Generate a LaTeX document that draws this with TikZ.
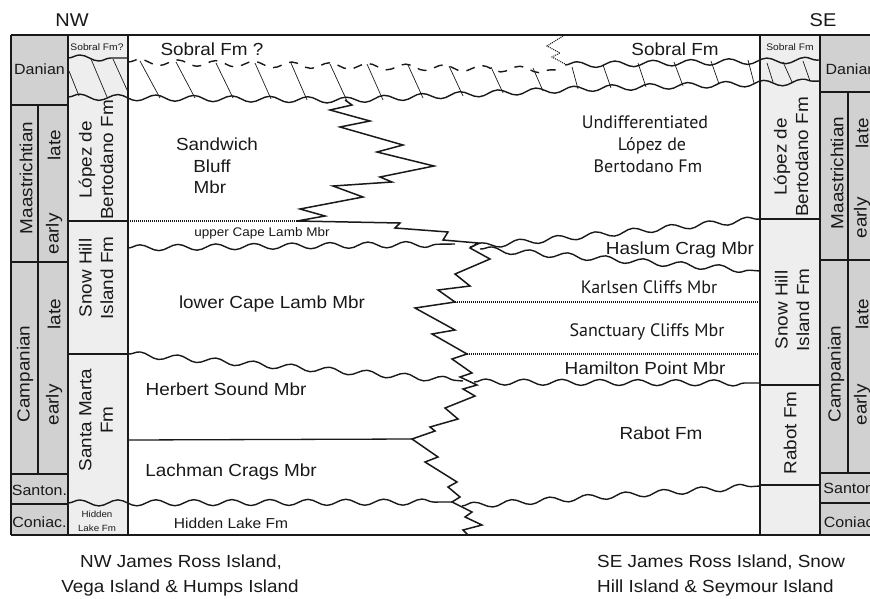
\documentclass[tikz,border=0pt]{standalone}
\usepackage{fontspec}
\setmainfont{Liberation Sans}[FakeStretch=1.08]
\newfontfamily\ptsans{PT Sans}
\usetikzlibrary{decorations.pathmorphing}

\definecolor{stagegray}{gray}{0.82}
\definecolor{fmgray}{gray}{0.935}
\definecolor{ink}{gray}{0.1}

\tikzset{
  edge/.style={line width=1.3pt,draw=ink},
  zig/.style={line width=1.5pt,draw=ink,line join=miter},
  wavy/.style={line width=1.4pt,draw=ink,decorate,decoration={snake,segment length=38pt,amplitude=3pt}},
  hatch/.style={line width=0.7pt,draw=ink},
  dotline/.style={line width=1.1pt,draw=ink,dash pattern=on 1pt off 1pt},
  lbl/.style={inner sep=0pt,text=ink,anchor=base,font=\fontsize{17.5}{21}\selectfont},
  mlbl/.style={lbl,font=\ptsans\fontsize{18}{21}\selectfont},
  slbl/.style={lbl,font=\fontsize{12.5}{15}\selectfont},
  tiny/.style={lbl,font=\fontsize{9.5}{14}\selectfont},
  stagelbl/.style={lbl,font=\fontsize{14.8}{18}\selectfont},
  vlbl/.style={inner sep=0pt,text=ink,rotate=90,align=center,font=\fontsize{17.5}{21.5}\selectfont},
}

\begin{document}
\begin{tikzpicture}[x=1pt,y=-1pt]
\useasboundingbox (0,0) rectangle (870,598);

% column fills
\fill[stagegray] (11,35) rectangle (68,535);
\fill[fmgray] (68,35) rectangle (128,535);
\fill[fmgray] (760,35) rectangle (820,535);
\fill[stagegray] (820,35) rectangle (877,535);

% frame and columns
\draw[edge] (11,35) -- (877,35);
\draw[edge] (11,535) -- (877,535);
\foreach \x in {11,68,128,760,820,877}
	\draw[edge] (\x,35) -- (\x,535);
\draw[edge] (38,105) -- (38,474);
\draw[edge] (848,92) -- (848,473);
\foreach \y in {105,262,474,504}
	\draw[edge] (11,\y) -- (68,\y);
\foreach \y in {92,260,473,503}
	\draw[edge] (820,\y) -- (877,\y);
\foreach \y in {221,354}
	\draw[edge] (68,\y) -- (128,\y);
\foreach \y in {219,385,485}
	\draw[edge] (760,\y) -- (820,\y);

% Sobral unconformity, hatched band
\draw[wavy] (68,58) -- (128,58);
\draw[wavy,dash pattern=on 9pt off 8pt] (128,62) -- (560,70);
\draw[dotline] (563,36) -- (547,46) -- (560,53) -- (552,57) -- (565,64);
\draw[wavy] (565,65) -- (820,60);
\draw[wavy] (68,97) -- (330,100) -- (580,88) -- (820,81);
\foreach \a/\b/\c/\d in {69/71/79/96, 91/59/107/97, 113/59/128/92,
	140/61/160/98, 176/62/195/98, 216/63/233/98, 255/63/271/99,
	291/63/307/100, 330/64/347/101, 367/64/383/100, 408/65/423/98,
	449/66/463/96, 491/67/503/93, 533/68/543/91, 572/67/578/89,
	603/65/611/88, 638/63/646/87, 674/62/683/86, 711/61/719/84,
	748/60/754/83, 767/63/773/82, 783/62/792/82, 803/61/810/81}
	\draw[hatch] (\a,\b) -- (\c,\d);

% member boundaries
\coordinate (ucl) at (297,221);
\coordinate (ksc) at (455,302);
\coordinate (sch) at (467,354);
\coordinate (hsl) at (412,439);
\draw[dotline] (128,221) -- (ucl);
\draw[wavy] (128,248) -- (455,244);
\draw[wavy] (470,247) -- (760,219);
\draw[wavy] (480,249) -- (760,271);
\draw[dotline] (ksc) -- (760,302);
\draw[dotline] (sch) -- (760,354);
\draw[wavy] (128,354) -- (463,381);
\draw[wavy] (474,382) -- (760,383);
\draw[edge] (128,440) -- (hsl);
\draw[wavy] (68,503) -- (452,502);
\draw[wavy] (462,506) -- (760,486);

% facies boundary
\draw[zig] (345,100) -- (352,105) -- (330,110) -- (370,121) -- (340,127)
	-- (403,145) -- (377,152) -- (434,166) -- (380,177) -- (392,182)
	-- (333,186) -- (363,197) -- (300,209) -- (325,216) -- (ucl)
	-- (400,223) -- (395,228) -- (448,232) -- (443,240) -- (478,243)
	-- (470,248) -- (490,259) -- (455,274) -- (470,286) -- (438,290)
	-- (ksc) -- (415,308) -- (455,330) -- (432,334) -- (sch)
	-- (452,359) -- (472,373) -- (460,377) -- (477,385) -- (463,389)
	-- (475,396) -- (445,408) -- (458,419) -- (430,427) -- (435,431)
	-- (hsl) -- (438,457) -- (425,462) -- (457,482) -- (448,487)
	-- (460,497) -- (452,502) -- (472,512) -- (465,517) -- (482,525)
	-- (463,530) -- (468,535);

% headings
\node[lbl,font=\fontsize{18.5}{22}\selectfont] (nw) at (72,26) {NW};
\node[lbl,font=\fontsize{18.5}{22}\selectfont] (se) at (823,26) {SE};

% left stages
\node[stagelbl] (danL) at (39.5,74) {Danian};
\node[vlbl] (maaL) at (26,178) {Maastrichtian};
\node[vlbl] (maaLateL) at (54,145) {late};
\node[vlbl] (maaEarlyL) at (54,234) {early};
\node[vlbl] (camL) at (25,374) {Campanian};
\node[vlbl] (camLateL) at (54,314) {late};
\node[vlbl] (camEarlyL) at (54,405) {early};
\node[stagelbl] (sanL) at (39.5,495) {Santon.};
\node[stagelbl] (conL) at (39.5,527) {Coniac.};

% right stages
\node[stagelbl] (danR) at (851,74) {Danian};
\node[vlbl] (maaR) at (837,173) {Maastrichtian};
\node[vlbl] (maaLateR) at (862,133) {late};
\node[vlbl] (maaEarlyR) at (862,218) {early};
\node[vlbl] (camR) at (836,374) {Campanian};
\node[vlbl] (camLateR) at (862,314) {late};
\node[vlbl] (camEarlyR) at (862,405) {early};
\node[stagelbl] (sanR) at (851,493) {Santon.};
\node[stagelbl] (conR) at (851,527) {Coniac.};

% formations in columns
\node[tiny] (sobColL) at (97,50) {Sobral Fm?};
\node[vlbl] (lbfL) at (96,160) {López de\\Bertodano Fm};
\node[vlbl] (shiL) at (96,278) {Snow Hill\\Island Fm};
\node[vlbl] (smfL) at (96,420) {Santa Marta\\Fm};
\node[tiny,font=\fontsize{9}{14}\selectfont] (hlHi) at (97,517) {Hidden};
\node[tiny,font=\fontsize{9}{14}\selectfont] (hlLo) at (97,531) {Lake Fm};
\node[tiny] (sobColR) at (790,50) {Sobral Fm};
\node[vlbl] (lbfR) at (791,157) {López de\\Bertodano Fm};
\node[vlbl] (shiR) at (792,310) {Snow Hill\\Island Fm};
\node[vlbl] (rabR) at (790,433) {Rabot Fm};

% units, NW side
\node[lbl] (sobNW) at (212,55) {Sobral Fm ?};
\node[lbl] (sbA) at (217,150) {Sandwich};
\node[lbl] (sbB) at (212,172) {Bluff};
\node[lbl] (sbC) at (210,193) {Mbr};
\node[slbl] (uclt) at (262,236) {upper Cape Lamb Mbr};
\node[lbl] (lcl) at (272,308) {lower Cape Lamb Mbr};
\node[lbl] (hsm) at (226,395) {Herbert Sound Mbr};
\node[lbl] (lcm) at (231,476) {Lachman Crags Mbr};
\node[lbl,font=\fontsize{14.4}{17}\selectfont] (hlf) at (231,528) {Hidden Lake Fm};

% units, SE side
\node[lbl] (sobSE) at (675,55) {Sobral Fm};
\node[mlbl] (udA) at (645,128) {Undifferentiated};
\node[mlbl] (udB) at (652,150) {López de};
\node[mlbl] (udC) at (648,172) {Bertodano Fm};
\node[lbl] (hcm) at (680,254) {Haslum Crag Mbr};
\node[mlbl] (kcm) at (649,293) {Karlsen Cliffs Mbr};
\node[mlbl] (scm) at (647,336) {Sanctuary Cliffs Mbr};
\node[lbl] (hpm) at (645,374) {Hamilton Point Mbr};
\node[lbl] (rab) at (661,439) {Rabot Fm};

% captions
\node[lbl] (capNWa) at (181,567) {NW James Ross Island,};
\node[lbl] (capNWb) at (180,592) {Vega Island \& Humps Island};
\node[lbl,anchor=base west] (capSEa) at (597,567) {SE James Ross Island, Snow};
\node[lbl,anchor=base west] (capSEb) at (597,592) {Hill Island \& Seymour Island};
\end{tikzpicture}
\end{document}
